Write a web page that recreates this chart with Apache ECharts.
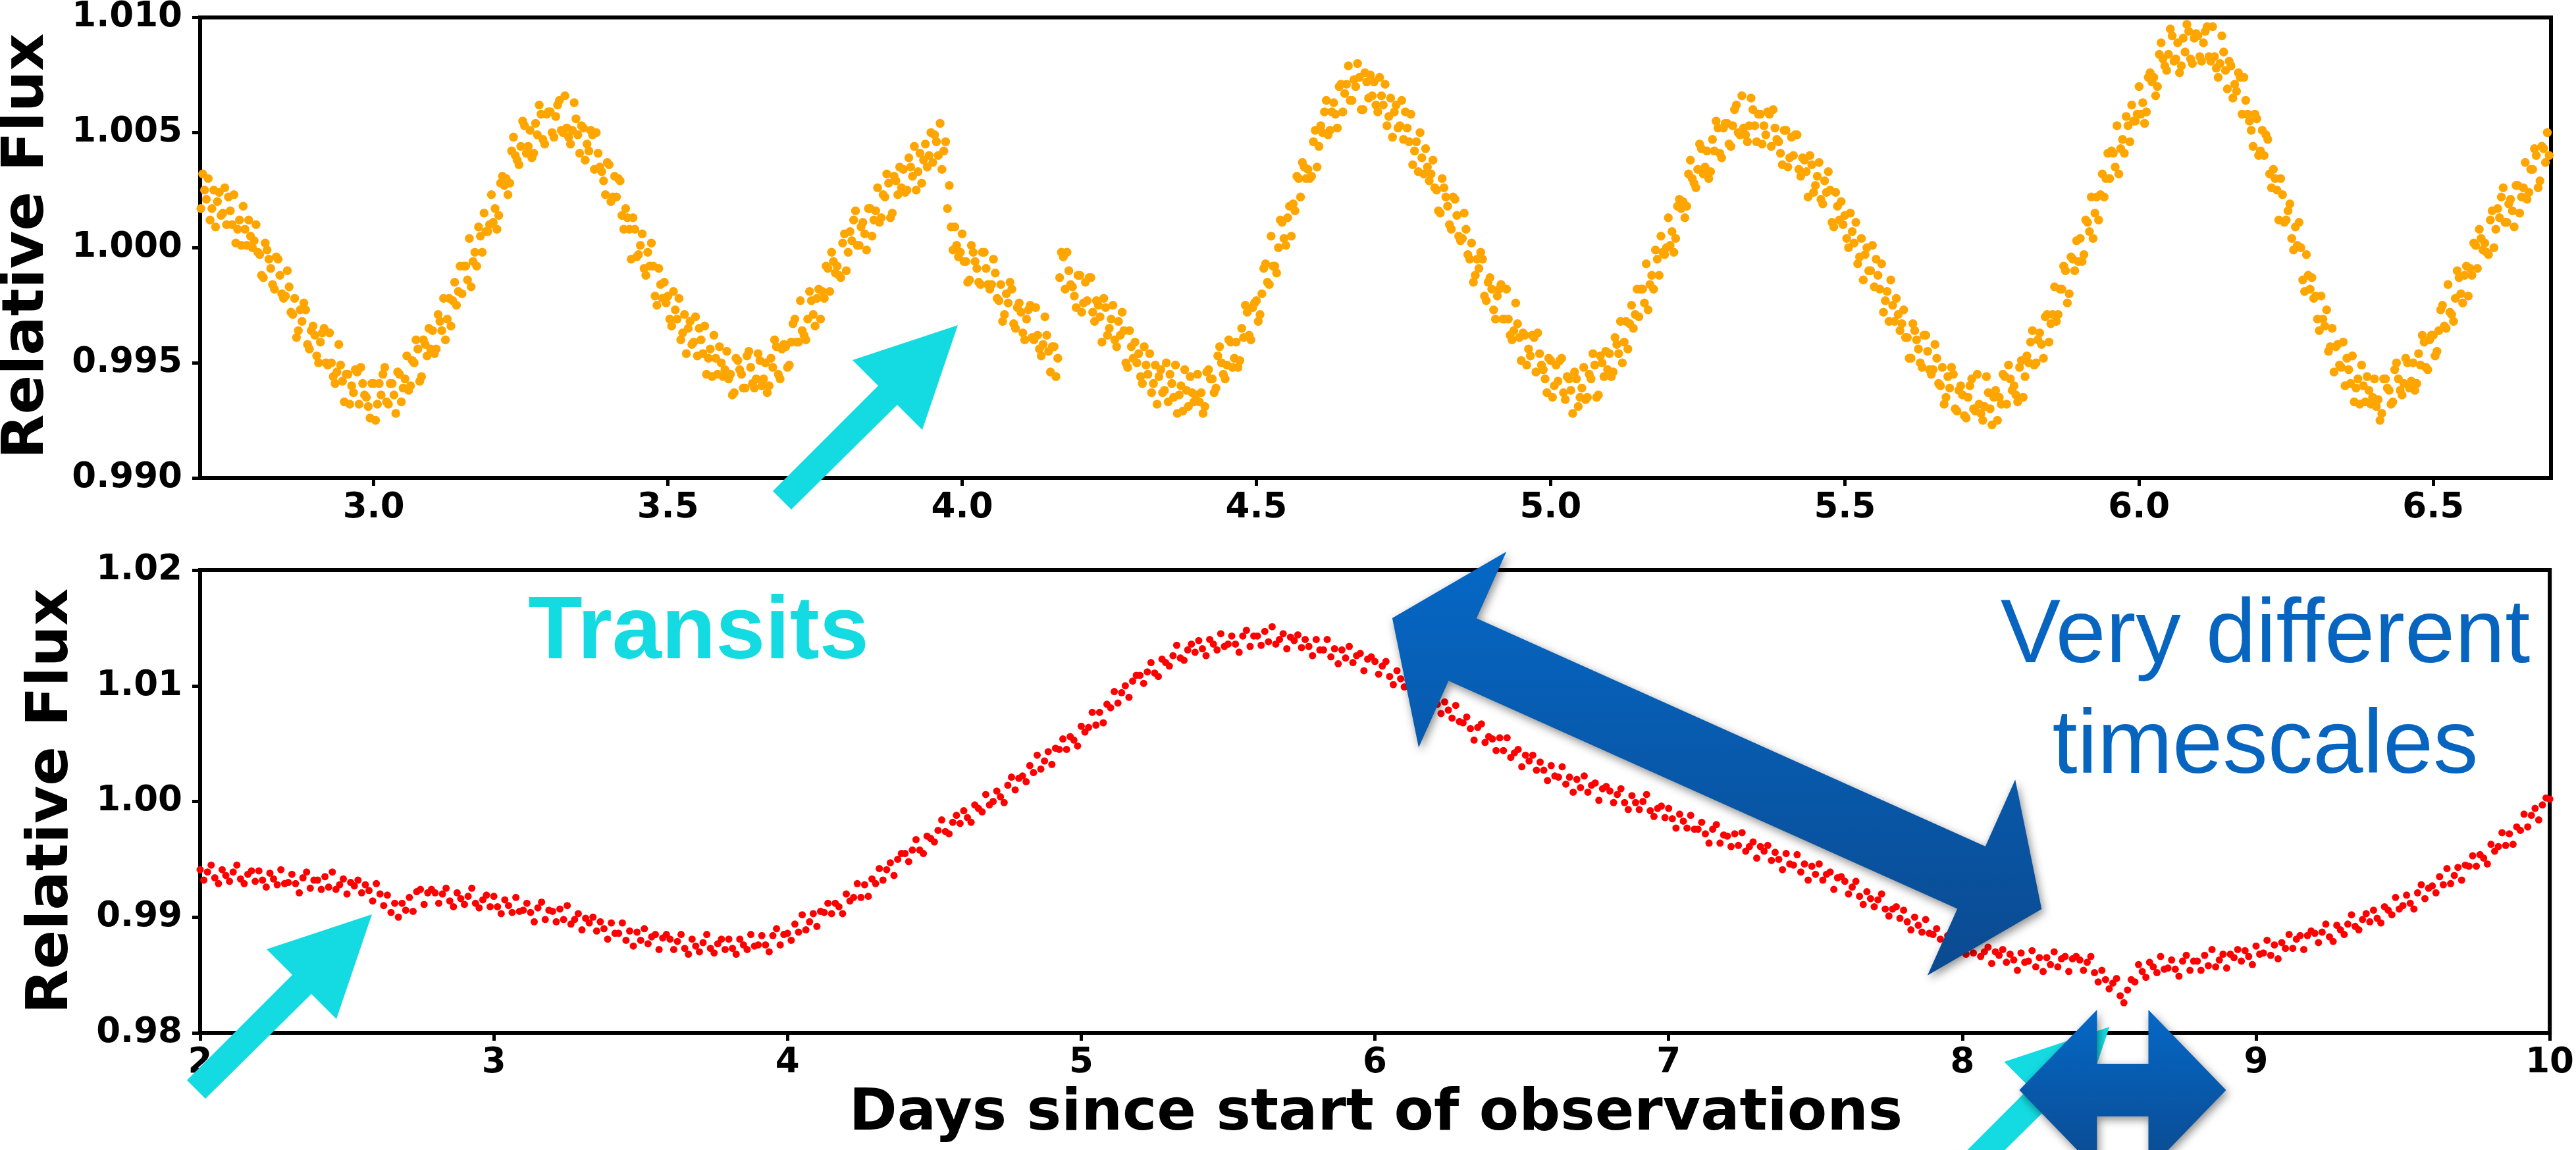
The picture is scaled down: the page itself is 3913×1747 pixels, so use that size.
<!DOCTYPE html>
<html>
<head>
<meta charset="utf-8">
<title>Relative flux light curves</title>
<script src="https://cdn.jsdelivr.net/npm/echarts@6/dist/echarts.min.js"></script>
<style>
  html, body { margin: 0; padding: 0; background: #ffffff; }
  #chart { width: 3913px; height: 1747px; }
</style>
</head>
<body>
<div id="chart"></div>
<script>
// ---- Upper light curve: fixed cadence, flux stored as (flux - 1) x 1e4 ----
const topStart = 2.7;
const topCadence = 0.00625;
const topFluxA = [
  29,17,25,30,17,9,24,15, 10,16,23,8,1,8,12,0, 10,-3,-13,-1,-9,-18,-5,-20,
  -21,-17,-29,-39,-27,-24,-42,-36, -38,-50,-37,-50,-37,-56,-54,-51,
  -67,-55,-60,-53,-68,-59,-65,-74, -59,-68,-64,-52,-68,-59,-72,-55,
  -61,-47,-60,-50,-44,-56,-42,-35, -36,-44,-32,-22,-31,-34,-15,-19,
  -20,-8,4,-6,-8,5,15,7, 23,17,14,31,30,28,48,38, 44,53,44,39,54,62,47,58,
  59,48,62,51,66,48,51,56, 41,52,45,51,34,41,33,23, 36,22,22,29,8,13,-5,8,
  -3,6,-12,-8,-8,-25,-16,-15, -21,-34,-27,-22,-37,-46,-32,-41,
  -47,-40,-34,-48,-56,-48,-43,-56, -45,-55,-63,-49,-55,-61,-45,-59,
  -57,-49,-57,-63,-48,-40,-55,-44
];
const topFluxB = [
  -43,-51,-33,-41,-23,-38,-31,-23, -34,-18,-19,-8,-19,-6,-8,-13,
  6,-2,3,16,1,11,-1,17, 12,26,13,22,28,15,29,35, 34,25,35,44,33,28,45,40,
  37,46,54,42,17,9,9,-4, 6,-6,-14,-2,-9,-16,-2,-16,
  -16,-11,-23,-32,-20,-15,-33,-26, -28,-40,-27,-39,-26,-44,-42,-38,
  -54,-43,-48,-2,-18,-10,-17,-26, -12,-24,-23,-13,-32,-25,-41,-26,
  -35,-25,-43,-38,-36,-52,-43,-41, -46,-59,-51,-46,-59,-68,-53,-62,
  -67,-59,-51,-64,-71,-62,-56,-67, -55,-63,-69,-53,-57,-61,-43,-55,
  -51,-41,-48,-52,-35,-25,-38,-26, -23,-29,-9,-15,5,-8,0,11,
  1,18,19,31,22,35,34,31, 51,44,50,64,51,63,52,71, 67,79,64,70,74,60,72,75
];
const topFluxC = [
  72,59,66,71,57,48,62,53, 47,52,58,42,33,39,43,29, 38,25,15,26,18,8,21,5,
  4,8,-5,-15,-5,-2,-21,-15, -18,-31,-18,-31,-18,-38,-36,-33,
  -49,-38,-44,-38,-54,-46,-53,-63, -49,-60,-58,-48,-66,-57,-72,-57,
  -65,-52,-65,-57,-51,-64,-50,-45, -46,-54,-42,-32,-41,-44,-25,-29,
  -30,-18,-7,-16,-18,-5,5,-3, 13,7,4,21,20,18,38,28, 34,43,35,30,47,55,41,52,
  54,44,60,50,66,49,53,60, 46,58,53,59,44,52,46,36, 51,39,40,49,31,38,22,36,
  27,37,19,24,25,9,18,20, 14,0,7,11,-4,-14,0,-10, -17,-12,-7,-23,-32,-25,-22,-36,
  -27,-39,-48,-36,-44,-52,-38,-53, -53,-48,-60,-68,-56,-52,-70,-62
];
const topFluxD = [
  -64,-74,-60,-70,-55,-72,-69,-63, -77,-62,-65,-55,-68,-57,-60,-67,
  -49,-56,-50,-36,-50,-37,-48,-29, -33,-17,-29,-18,-10,-20,-5,3,
  4,-3,11,22,15,12,32,30, 30,41,53,43,41,53,62,55, 70,63,59,76,74,70,89,79,
  84,92,82,76,91,97,82,91, 92,81,94,83,96,78,80,85, 69,79,71,76,58,64,55,44,
  56,42,40,47,26,30,12,23, 12,19,-1,1,0,-19,-12,-13, -21,-36,-31,-27,-43,-54,-42,-52,
  -60,-53,-47,-61,-68,-60,-56,-68, -57,-66,-72,-57,-62,-67,-50,-62,
  -59,-50,-58,-62,-46,-38,-52,-40, -38,-45,-27,-34,-16,-29,-22,-13,
  -24,-8,-9,2,-9,4,2,-3, 16,8,13,26,11,21,9,27, 22,37,24,34,40,29,43,50
];
// Interleaved samples, half a cadence after the ones above
const topFluxE = [
  19,32,21,12,25,20,14,26, 22,10,2,12,18,1,5,3, -2,-12,2,-5,-16,-4,-12,-22,
  -10,-28,-22,-36,-32,-27,-44,-34, -47,-41,-35,-51,-50,-59,-42,-58,
  -55,-68,-63,-54,-52,-64,-69,-59, -75,-59,-55,-67,-59,-64,-54,-67,
  -57,-62,-49,-40,-58,-40,-47,-44, -46,-29,-36,-40,-22,-23,-25,-8,
  -8,-14,-17,-2,9,-2,7,10, 11,8,28,27,23,42,40,36, 55,41,51,41,49,58,45,59,
  50,57,64,50,52,45,63,49, 53,38,42,49,50,35,29,37, 20,31,30,14,17,8,13,-4,
  1,-9,-2,2,-21,-9,-22,-24, -31,-19,-31,-40,-29,-35,-42,-30,
  -35,-46,-55,-44,-38,-55,-50,-53, -57,-64,-48,-53,-61,-47,-52,-61,
  -46,-60,-50,-60,-52,-43,-57,-42
];
const topFluxF = [
  -52,-41,-31,-41,-36,-40,-19,-29, -22,-31,-22,-9,-2,-11,-12,2,
  -10,7,12,1,9,6,17,5, 16,11,23,32,13,31,23,26, 24,39,31,25,41,38,35,50,
  49,40,34,46,27,-1,1,-2, -6,-15,1,-6,-15,-2,-9,-18,
  -5,-22,-16,-29,-24,-18,-35,-24, -37,-31,-25,-40,-38,-47,-30,-45,
  -43,-56,-13,-4,-2,-16,-21,-12, -28,-15,-13,-28,-23,-30,-22,-38,
  -31,-40,-32,-28,-50,-36,-48,-50, -56,-43,-55,-63,-51,-56,-63,-50,
  -55,-65,-72,-60,-53,-69,-63,-64, -67,-72,-54,-57,-63,-47,-50,-57,
  -40,-52,-41,-49,-39,-28,-40,-24, -32,-20,-7,-16,-8,-11,12,4,
  13,5,16,30,37,30,30,46, 35,53,59,49,59,58,70,59, 71,64,73,80,60,76,65,66
];
const topFluxG = [
  62,74,62,53,65,59,52,64, 59,46,36,46,50,32,35,32, 26,16,30,22,10,22,14,3,
  15,-3,2,-12,-9,-5,-23,-13, -27,-21,-16,-31,-31,-40,-24,-39,
  -37,-51,-47,-39,-37,-51,-57,-48, -65,-51,-49,-63,-56,-62,-54,-69,
  -61,-66,-55,-46,-65,-47,-56,-53, -56,-39,-46,-50,-32,-33,-35,-18,
  -18,-24,-27,-12,-1,-12,-2,0, 1,-2,18,17,13,32,30,26, 45,32,42,33,42,52,39,54,
  45,53,62,49,52,46,65,53, 58,45,49,58,60,47,41,51, 35,48,49,34,39,33,40,24,
  31,21,29,33,11,24,12,10, 4,15,2,-7,4,-3,-10,1, -5,-18,-28,-19,-14,-32,-29,-33,
  -39,-48,-33,-40,-50,-38,-45,-55, -42,-59,-52,-65,-61,-55,-71,-60
];
const topFluxH = [
  -73,-65,-57,-71,-68,-75,-56,-70, -65,-75,-68,-56,-51,-62,-64,-52,
  -65,-47,-41,-51,-40,-42,-30,-41, -29,-32,-18,-8,-24,-4,-10,-6,
  -6,12,7,4,22,23,22,41, 42,35,32,47,57,46,55,58, 58,54,74,72,66,84,82,77,
  95,81,89,79,85,94,80,93, 83,89,96,81,83,74,92,77, 81,65,68,74,74,58,51,58,
  40,51,49,32,34,25,30,11, 16,4,9,11,-14,-3,-18,-22, -31,-21,-34,-45,-35,-43,-51,-41,
  -48,-59,-67,-57,-51,-67,-62,-65, -69,-75,-57,-61,-68,-53,-57,-64,
  -48,-61,-50,-59,-51,-41,-53,-38, -47,-36,-25,-35,-28,-32,-10,-20,
  -12,-21,-12,1,8,-1,-2,12, 0,17,22,11,19,16,27,15, 26,21,34,43,26,44,37,40
];

// ---- Lower light curve: fixed cadence, flux stored as (flux - 1) x 1e4 ----
const bottomStart = 2.0;
const bottomCadence = 0.0125;
const bottomFluxA = [
  -59,-68,-61,-55,-66,-71,-59,-64, -69,-61,-55,-67,-71,-63,-60,-69,
  -60,-68,-74,-62,-67,-72,-59,-71, -70,-63,-71,-79,-66,-61,-75,-68,
  -68,-76,-65,-74,-61,-76,-72,-67, -80,-70,-73,-68,-79,-72,-77,-86,
  -71,-80,-90,-81,-96,-88,-100,-88, -94,-83,-95,-78,-76,-89,-79,-76,
  -79,-88,-80,-75,-86,-91,-79,-84, -89,-82,-75,-88,-92,-85,-81,-91,
  -82,-91,-97,-85,-90,-96,-83,-95, -94,-88,-96,-104,-92,-87,-102,-94,
  -95,-104,-93,-102,-90,-106,-102,-97, -111,-101,-105,-100,-112,-104,-110,-119,
  -105,-114,-114,-105,-120,-112,-125,-113, -120,-110,-123,-117,-115,-128,-118,-115,
  -119,-128,-121,-115,-127,-132,-119,-125, -130,-122,-115,-127,-131,-123,-119,-128,
  -119,-127,-132,-119,-124,-128,-115,-125, -124,-116,-124,-130,-116,-110,-124,-115
];
const bottomFluxB = [
  -114,-120,-106,-113,-98,-111,-104,-97, -108,-95,-96,-88,-97,-88,-91,-97,
  -80,-86,-83,-71,-83,-72,-82,-67, -71,-58,-68,-59,-53,-64,-50,-45,
  -45,-52,-42,-33,-42,-45,-30,-32, -35,-25,-16,-26,-28,-18,-12,-19,
  -8,-14,-18,-3,-6,-9,6,-3, 0,9,4,-1,14,21,10,20,
  22,17,31,25,40,28,35,43, 32,46,45,54,45,56,53,48,
  65,60,64,77,66,77,68,84, 81,95,85,94,100,90,104,109,
  109,102,112,120,111,108,123,120, 117,126,135,124,122,131,136,129,
  139,132,126,140,136,131,145,134, 136,143,136,129,143,148,134,143,
  143,135,147,138,151,136,140,145, 132,142,139,144,133,140,134,126,
  140,131,131,140,125,132,119,131, 124,134,120,126,128,113,123,125
];
const bottomFluxC = [
  121,110,117,121,108,101,113,106, 99,105,110,96,90,96,98,87,
  94,84,76,86,79,72,83,69, 68,73,63,53,64,67,51,56,
  54,44,55,44,55,38,42,45, 30,40,35,40,27,34,27,18,
  31,22,21,30,15,21,8,19, 12,22,8,14,16,1,11,13,
  9,-1,6,11,-1,-7,5,-1, -7,0,6,-8,-13,-6,-4,-14,
  -6,-15,-23,-11,-17,-23,-12,-24, -24,-18,-28,-36,-24,-20,-36,-29,
  -30,-39,-28,-38,-27,-43,-39,-35, -49,-39,-43,-38,-51,-44,-50,-59,
  -45,-54,-55,-46,-61,-54,-68,-56, -63,-54,-68,-63,-61,-76,-66,-65,
  -69,-80,-74,-69,-82,-89,-78,-84, -91,-85,-80,-93,-99,-93,-91,-101,
  -94,-104,-111,-100,-107,-113,-102,-114, -115,-110,-119,-128,-116,-113,-128,-122
];
const bottomFluxD = [
  -123,-132,-121,-131,-119,-134,-130,-126, -140,-130,-133,-128,-139,-132,-137,-146,
  -131,-139,-138,-129,-143,-135,-147,-135, -141,-130,-143,-136,-134,-147,-136,-134,
  -137,-146,-139,-134,-148,-156,-146,-154, -162,-157,-153,-168,-174,-163,-154,-156,
  -141,-147,-152,-139,-143,-148,-134,-145, -144,-137,-145,-151,-138,-133,-146,-138,
  -138,-146,-133,-142,-128,-143,-137,-132, -144,-132,-135,-128,-138,-129,-134,-141,
  -125,-132,-131,-120,-133,-124,-136,-122, -127,-115,-127,-119,-116,-128,-116,-112,
  -114,-122,-113,-106,-117,-121,-107,-111, -115,-106,-98,-108,-111,-102,-97,-104,
  -94,-101,-105,-91,-94,-98,-83,-93, -90,-81,-88,-93,-79,-72,-84,-75,
  -73,-79,-65,-72,-58,-71,-64,-57, -68,-55,-56,-47,-56,-46,-49,-54,
  -37,-43,-39,-27,-38,-28,-37,-22, -25,-11,-22,-12,-6,-16,-3,3,
  2
];

// ---- Axis ticks and ranges ----
const topXTicks = [3.0, 3.5, 4.0, 4.5, 5.0, 5.5, 6.0, 6.5];
const topXRange = [2.705, 6.70];
const topYRange = [0.990, 1.010];
const topYStep = 0.005;
const bottomXRange = [2, 10];
const bottomXStep = 1;
const bottomYRange = [0.98, 1.02];
const bottomYStep = 0.01;

// ---- Annotation anchors (data coordinates of the upper / lower panels) ----
const topArrowTip = [3.9926, 0.99663];
const bottomArrowTips = [[2.585, 0.99024], [8.501, 0.98051]];
const longArrowEnds = [[6.059, 1.01585], [8.270, 0.99070]];
const shortArrowEnds = [[8.194, 0.97505], [8.898, 0.97505]];

function toPoints(start, cadence, chunks) {
  const pts = [];
  let i = 0;
  chunks.forEach(chunk => chunk.forEach(v => {
    pts.push([+(start + i * cadence).toFixed(5), 1 + v / 1e4]);
    i++;
  }));
  return pts;
}

const topPoints = toPoints(topStart, topCadence, [topFluxA, topFluxB, topFluxC, topFluxD])
  .concat(toPoints(topStart + topCadence / 2, topCadence, [topFluxE, topFluxF, topFluxG, topFluxH]));
const bottomPoints = toPoints(bottomStart, bottomCadence, [bottomFluxA, bottomFluxB, bottomFluxC, bottomFluxD]);

const TICK_FONT = '"DejaVu Sans", "Noto Sans", sans-serif';
const tickLabel = { color: '#000', fontFamily: TICK_FONT, fontWeight: 'bold', fontSize: 53 };
const tickLine = { show: true, inside: false, length: 12, lineStyle: { color: '#000', width: 5 } };

const chart = echarts.init(document.getElementById('chart'), null, { renderer: 'canvas' });

chart.setOption({
  animation: false,
  backgroundColor: '#ffffff',
  grid: [
    { left: 304, top: 23, width: 3571, height: 703, show: true, borderColor: '#000', borderWidth: 6, backgroundColor: 'transparent' },
    { left: 304, top: 866, width: 3571, height: 703, show: true, borderColor: '#000', borderWidth: 6, backgroundColor: 'transparent' }
  ],
  xAxis: [
    {
      gridIndex: 0, type: 'value', min: topXRange[0], max: topXRange[1],
      axisLine: { show: false }, splitLine: { show: false },
      axisTick: Object.assign({}, tickLine, { customValues: topXTicks }),
      axisLabel: Object.assign({}, tickLabel, { margin: 20, customValues: topXTicks, formatter: v => Number(v).toFixed(1) })
    },
    {
      gridIndex: 1, type: 'value', min: bottomXRange[0], max: bottomXRange[1], interval: bottomXStep,
      axisLine: { show: false }, splitLine: { show: false },
      axisTick: tickLine,
      axisLabel: Object.assign({}, tickLabel, { margin: 20, formatter: v => String(Math.round(v)) })
    }
  ],
  yAxis: [
    {
      gridIndex: 0, type: 'value', min: topYRange[0], max: topYRange[1], interval: topYStep,
      axisLine: { show: false }, splitLine: { show: false },
      axisTick: tickLine,
      axisLabel: Object.assign({}, tickLabel, { margin: 27, formatter: v => Number(v).toFixed(3) })
    },
    {
      gridIndex: 1, type: 'value', min: bottomYRange[0], max: bottomYRange[1], interval: bottomYStep,
      axisLine: { show: false }, splitLine: { show: false },
      axisTick: tickLine,
      axisLabel: Object.assign({}, tickLabel, { margin: 27, formatter: v => Number(v).toFixed(2) })
    }
  ],
  series: [
    {
      name: 'Upper light curve', type: 'scatter', xAxisIndex: 0, yAxisIndex: 0,
      data: topPoints, symbol: 'circle', symbolSize: 13.5,
      itemStyle: { color: '#FFA500', opacity: 1 }, z: 3
    },
    {
      name: 'Lower light curve', type: 'scatter', xAxisIndex: 1, yAxisIndex: 1,
      data: bottomPoints, symbol: 'circle', symbolSize: 11,
      itemStyle: { color: '#FF0000', opacity: 1 }, z: 3
    }
  ]
});

// ---- Annotations ----
const CYAN = '#14DBE1';
const blueFill = () => new echarts.graphic.LinearGradient(0, 0, 0, 1, [
  { offset: 0, color: '#0568C6' },
  { offset: 1, color: '#0B4A90' }
]);
const blueShadow = { shadowBlur: 14, shadowColor: 'rgba(0,0,0,0.45)', shadowOffsetX: 3, shadowOffsetY: 5 };

// Block arrow pointing up-right, offsets relative to its tip
const cyanArrowShape = [[-281, 252], [-121, 92], [-160, 53], [0, 0], [-54, 159], [-92, 121], [-253, 280]];

function cyanArrow(tip, z) {
  return {
    type: 'polygon', z: z,
    shape: { points: cyanArrowShape.map(([dx, dy]) => [tip[0] + dx, tip[1] + dy]) },
    style: { fill: CYAN }
  };
}

function doubleArrow(a, b, headLen, headHalf, shaftHalf, z) {
  const dx = b[0] - a[0], dy = b[1] - a[1];
  const len = Math.hypot(dx, dy);
  const ux = dx / len, uy = dy / len;
  const nx = -uy, ny = ux;
  const p = (base, along, side) => [base[0] + ux * along + nx * side, base[1] + uy * along + ny * side];
  const pts = [
    a,
    p(a, headLen, headHalf), p(a, headLen, shaftHalf),
    p(b, -headLen, shaftHalf), p(b, -headLen, headHalf),
    b,
    p(b, -headLen, -headHalf), p(b, -headLen, -shaftHalf),
    p(a, headLen, -shaftHalf), p(a, headLen, -headHalf)
  ];
  return { type: 'polygon', z: z, shape: { points: pts }, style: Object.assign({ fill: blueFill() }, blueShadow) };
}

const px0 = v => chart.convertToPixel({ gridIndex: 0 }, v);
const px1 = v => chart.convertToPixel({ gridIndex: 1 }, v);

function textEl(x, y, text, font, fill, rotation, z) {
  return {
    type: 'text', x: x, y: y, rotation: rotation || 0, z: z || 60,
    style: {
      text: text, font: font, fill: fill,
      align: 'center', verticalAlign: 'middle',
      textAlign: 'center', textVerticalAlign: 'middle'
    }
  };
}

const TITLE_FONT = 'bold 88px "DejaVu Sans", sans-serif';
const NOTE_FONT = '"Liberation Sans", Arial, sans-serif';

chart.setOption({
  graphic: [
    textEl(42, 374, 'Relative Flux', TITLE_FONT, '#000', Math.PI / 2),
    textEl(79, 1217, 'Relative Flux', TITLE_FONT, '#000', Math.PI / 2),
    textEl(2090, 1693, 'Days since start of observations', TITLE_FONT, '#000'),
    textEl(1061, 963, 'Transits', 'bold 135px ' + NOTE_FONT, CYAN),
    textEl(3441, 968, 'Very different', '137px ' + NOTE_FONT, '#0765C0'),
    textEl(3441, 1136, 'timescales', '137px ' + NOTE_FONT, '#0765C0'),
    cyanArrow(px0(topArrowTip), 100),
    cyanArrow(px1(bottomArrowTips[0]), 100),
    cyanArrow(px1(bottomArrowTips[1]), 100),
    doubleArrow(px1(longArrowEnds[0]), px1(longArrowEnds[1]), 117, 163, 52, 110),
    doubleArrow(px1(shortArrowEnds[0]), px1(shortArrowEnds[1]), 118, 122, 40, 110)
  ]
});
</script>
</body>
</html>
